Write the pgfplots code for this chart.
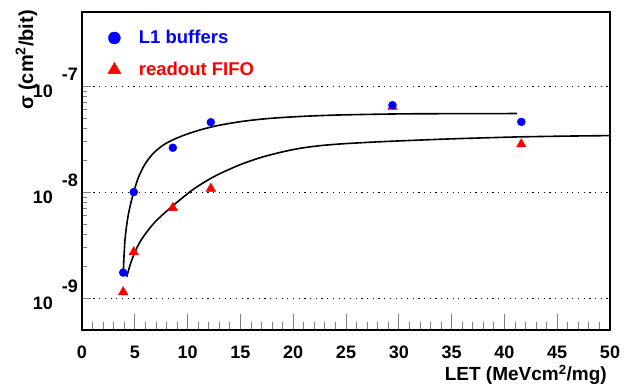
\documentclass[border=0pt]{standalone}
\usepackage{pgfplots}
\pgfplotsset{compat=1.18}
\usepackage{fontspec}
\setmainfont{Liberation Sans}
\begin{document}
\begin{tikzpicture}
\useasboundingbox (0,0) rectangle (624pt,385pt);
\begin{axis}[
  at={(82pt,55pt)}, anchor=south west,
  scale only axis, width=528pt, height=318pt,
  xmin=0, xmax=50, ymode=log, ymin=5e-10, ymax=5e-7,
  xtick={0,5,...,50}, minor x tick num=4,
  xticklabels={0,5,10,15,20,25,30,35,40,45,50},
  ytick={1e-9,1e-8,1e-7},
  yticklabels={{10\rlap{\raisebox{17pt}{\kern9pt -9}}},{10\rlap{\raisebox{17pt}{\kern9pt -8}}},{10\rlap{\raisebox{17pt}{\kern9pt -7}}}},
  tick align=inside, xtick pos=bottom, ytick pos=left,
  xtick style={/pgfplots/major tick length=16pt,/pgfplots/minor tick length=8pt, line width=0.8pt},
  ytick style={/pgfplots/major tick length=9pt,/pgfplots/minor tick length=5pt, line width=0.8pt},
  xticklabel style={font=\fontsize{18}{18}\selectfont\bfseries, anchor=base, inner sep=0pt, yshift=-28pt},
  yticklabel style={font=\fontsize{18}{18}\selectfont\bfseries, anchor=base east, inner sep=0pt, xshift=-29pt, yshift=-11pt},
  ymajorgrids, major grid style={black, line width=1.1pt, dash pattern=on 1.2pt off 4.5pt},
  axis line style={black, line width=1.4pt},
  legend style={draw=none, fill=none, at={(rel axis cs:0.043,0.955)}, anchor=north west,
    font=\fontsize{18.5}{22}\selectfont\bfseries, row sep=13pt, cells={anchor=west},
    /tikz/every odd column/.append style={column sep=16pt}},
  legend cell align=left,
]
\addlegendimage{only marks, mark=*, blue, mark size=6pt}
\addlegendentry{\textcolor{blue}{L1 buffers}}
\addlegendimage{only marks, mark=triangle*, red, mark size=7.5pt}
\addlegendentry{\textcolor{red}{readout FIFO}}
% fitted curves
\addplot[black, line width=1.6pt, smooth, forget plot] coordinates {
(3.91,1.73e-9) (3.98,2.51e-9) (4.07,3.52e-9) (4.22,4.79e-9) (4.45,6.61e-9)
(4.86,9.72e-9) (5.33,1.365e-8) (5.97,1.84e-8) (6.75,2.32e-8) (7.70,2.78e-8)
(8.65,3.126e-8) (9.91,3.516e-8) (11.49,3.936e-8) (13.07,4.285e-8) (14.96,4.613e-8)
(16.5,4.819e-8) (18.0,4.977e-8) (20.6,5.164e-8) (23.8,5.321e-8) (28.2,5.433e-8)
(32.0,5.483e-8) (41.2,5.51e-8)};
\addplot[black, line width=1.6pt, smooth, forget plot] coordinates {
(4.23,1.58e-9) (4.71,2.28e-9) (5.49,3.39e-9) (6.75,5.01e-9) (8.33,7.05e-9)
(10.23,1.007e-8) (11.17,1.169e-8) (12.12,1.334e-8) (13.07,1.496e-8) (14.96,1.811e-8)
(16.86,2.109e-8) (18.75,2.366e-8) (20.64,2.588e-8) (22.54,2.742e-8) (24.43,2.844e-8)
(26.3,2.917e-8) (28.2,2.985e-8) (30.1,3.041e-8) (32.8,3.119e-8) (35.5,3.192e-8)
(38.5,3.258e-8) (41.5,3.319e-8) (45.7,3.373e-8) (50,3.412e-8)};
% data
\addplot[only marks, mark=triangle*, red, mark size=5.5pt, forget plot] coordinates {
(3.9,1.14e-9) (4.9,2.72e-9) (8.6,7.1e-9) (12.2,1.08e-8) (29.4,6.4e-8) (41.6,2.83e-8)};
\addplot[only marks, mark=*, blue, mark size=4pt, forget plot] coordinates {
(3.9,1.74e-9) (4.9,1.0e-8) (8.6,2.62e-8) (12.2,4.56e-8) (29.4,6.6e-8) (41.6,4.6e-8)};
\end{axis}
\node[rotate=90, anchor=base east, inner sep=0pt, font=\fontsize{20}{20}\selectfont\bfseries] at (33pt,375pt) {σ (cm$^{\mathbf{2}}$/bit)};
\node[anchor=base east, inner sep=0pt, font=\fontsize{19}{19}\selectfont\bfseries] at (607pt,4.5pt) {LET (MeVcm$^{\mathbf{2}}$/mg)};
\end{tikzpicture}
\end{document}
